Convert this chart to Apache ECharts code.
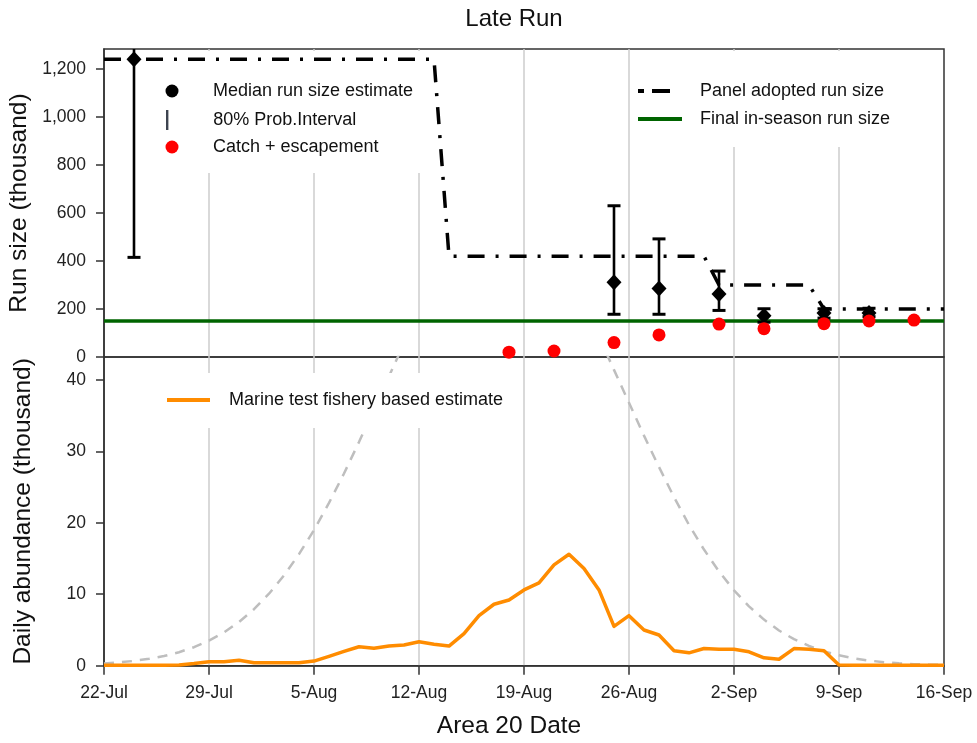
<!DOCTYPE html>
<html>
<head>
<meta charset="utf-8">
<script src="https://cdn.jsdelivr.net/npm/echarts@6/dist/echarts.min.js"></script>
<style>
  html, body { margin: 0; padding: 0; background: #fff; }
  #chart { width: 977px; height: 743px; }
</style>
</head>
<body>
<div id="chart"></div>
<script>
// x axis counts days after 22-Jul
const xTickLabels = ['22-Jul', '29-Jul', '5-Aug', '12-Aug', '19-Aug', '26-Aug', '2-Sep', '9-Sep', '16-Sep'];
const yTopTicks = [0, 200, 400, 600, 800, 1000, 1200];
const yBottomTicks = [0, 10, 20, 30, 40];

// top panel, run size (thousand)
const estDates = ['07-24', '08-25', '08-28', '09-01', '09-04', '09-08', '09-11'];
const estMedian = [1240, 311, 285, 262, 172, 183, 183];
const estLow = [415, 178, 178, 194, 145, 162, 168];
const estHigh = [1330, 630, 492, 358, 201, 201, 203];

const catchDates = ['08-18', '08-21', '08-25', '08-28', '09-01', '09-04', '09-08', '09-11', '09-14'];
const catchEsc = [20, 25, 60, 92, 137, 118, 139, 150, 154];

const adoptDates = ['07-22', '08-13', '08-14', '08-31', '09-01', '09-07', '09-08', '09-16'];
const adoptRun = [1240, 1240, 420, 420, 300, 300, 200, 200];

const finalRun = 150;

// bottom panel, daily abundance (thousand), one value a day from 22-Jul
const marineDaily = [0.05, 0.05, 0.05, 0.05, 0.05, 0.1, 0.3, 0.55, 0.55, 0.75,
  0.4, 0.4, 0.4, 0.4, 0.65, 1.3, 2.0, 2.65, 2.45, 2.75,
  2.9, 3.35, 3.0, 2.75, 4.5, 7.0, 8.6, 9.2, 10.6, 11.6,
  14.1, 15.6, 13.6, 10.6, 5.5, 7.0, 5.0, 4.3, 2.1, 1.8,
  2.4, 2.3, 2.3, 1.95, 1.1, 0.9, 2.4, 2.3, 2.1, 0.1,
  0.05, 0.05, 0.05, 0.05, 0.05, 0.05, 0.05];
const timingCurve = [0.31, 0.46, 0.67, 0.96, 1.35, 1.89, 2.59, 3.5, 4.66, 6.12,
  7.91, 10.07, 12.63, 15.61, 18.99, 22.78, 26.9, 31.3, 35.9, 40.5,
  45.1, 49.4, 53.3, 56.7, 59.4, 61.3, 62.3, 62.4, 61.6, 59.9,
  57.3, 54.0, 50.2, 46.0, 41.4, 36.8, 32.2, 27.8, 23.6, 19.7,
  16.25, 13.19, 10.55, 8.31, 6.45, 4.93, 3.71, 2.76, 2.01, 1.45,
  1.03, 0.72, 0.49, 0.34, 0.22, 0.15, 0.1];

const FONT = 'Liberation Sans, Arial, sans-serif';

function dayOf(s) {
  const [m, d] = s.split('-').map(Number);
  return (Date.UTC(2021, m - 1, d) - Date.UTC(2021, 6, 22)) / 864e5;
}

const axisLineStyle = { color: '#333', width: 1.5 };
const gridLineStyle = { color: '#cccccc', width: 1.5 };
const tickText = { fontSize: 17.5, color: '#222', fontFamily: FONT };
const nameText = { fontSize: 24.5, color: '#111', fontFamily: FONT };
const legendText = { fontSize: 18, color: '#111', fontFamily: FONT };
// hides the dot that line series put in their legend icon
const noDot = { color: 'rgba(0,0,0,0)', opacity: 0, borderWidth: 0 };

const chart = echarts.init(document.getElementById('chart'));
chart.setOption({
  animation: false,
  graphic: [{
    type: 'text', x: 514, y: 19, z: 10,
    style: { text: 'Late Run', fontSize: 24, fontFamily: FONT, fill: '#111',
      align: 'center', verticalAlign: 'middle', textAlign: 'center', textVerticalAlign: 'middle' }
  }],
  grid: [
    { left: 104, right: 33, top: 49, height: 308, show: true, borderColor: '#333', borderWidth: 1.5, outerBoundsMode: 'none' },
    { left: 104, right: 33, top: 357, height: 308.7, show: true, borderColor: '#333', borderWidth: 1.5, outerBoundsMode: 'none' }
  ],
  xAxis: [
    {
      gridIndex: 0, type: 'value', min: 0, max: 56, interval: 7,
      axisLine: { show: false }, axisTick: { show: false }, axisLabel: { show: false },
      splitLine: { show: true, showMinLine: false, showMaxLine: false, lineStyle: gridLineStyle }
    },
    {
      gridIndex: 1, type: 'value', min: 0, max: 56, interval: 7,
      axisLine: { show: true, lineStyle: axisLineStyle },
      axisTick: { show: true, length: 9, lineStyle: axisLineStyle },
      axisLabel: Object.assign({ margin: 18, formatter: v => xTickLabels[Math.round(v / 7)] }, tickText),
      splitLine: { show: true, showMinLine: false, showMaxLine: false, lineStyle: gridLineStyle },
      name: 'Area 20 Date', nameLocation: 'middle', nameGap: 48,
      nameTextStyle: Object.assign({ padding: [0, 30, 0, 0] }, nameText)
    }
  ],
  yAxis: [
    {
      gridIndex: 0, type: 'value', min: 0, max: 1283,
      axisLine: { show: true, lineStyle: axisLineStyle },
      axisTick: { show: true, length: 8, lineStyle: axisLineStyle, customValues: yTopTicks },
      axisLabel: Object.assign({ margin: 18, customValues: yTopTicks,
        formatter: v => String(v).replace(/\B(?=(\d{3})+(?!\d))/g, ',') }, tickText),
      splitLine: { show: false },
      name: 'Run size (thousand)', nameLocation: 'middle', nameRotate: 90, nameGap: 68,
      nameTextStyle: nameText
    },
    {
      gridIndex: 1, type: 'value', min: 0, max: 43.2,
      axisLine: { show: true, lineStyle: axisLineStyle },
      axisTick: { show: true, length: 8, lineStyle: axisLineStyle, customValues: yBottomTicks },
      axisLabel: Object.assign({ margin: 18, customValues: yBottomTicks }, tickText),
      splitLine: { show: false },
      name: 'Daily abundance (thousand)', nameLocation: 'middle', nameRotate: 90, nameGap: 68,
      nameTextStyle: nameText
    }
  ],
  legend: [
    {
      data: [{ name: 'Median run size estimate', icon: 'circle' }, { name: 'Catch + escapement' }],
      left: 159, top: 51, orient: 'vertical', itemWidth: 72, itemHeight: 13, itemGap: 38,
      padding: [31, 12, 17, 6.5], backgroundColor: '#fff', textStyle: legendText, selectedMode: false
    },
    {
      data: [{ name: '80% Prob.Interval', icon: 'path://M0,0H2.4V20H0Z', itemStyle: { color: '#3d4450' } }],
      left: 166, top: 110, itemWidth: 82, itemHeight: 20, padding: 0, z: 5,
      textStyle: legendText, selectedMode: false
    },
    {
      data: [{ name: 'Panel adopted run size', lineStyle: { type: [6, 8, 18, 100], width: 4 }, itemStyle: noDot },
        { name: 'Final in-season run size', lineStyle: { type: [44, 100], width: 4 }, itemStyle: noDot }],
      left: 631, top: 51, orient: 'vertical', itemWidth: 57, itemHeight: 14, itemGap: 10,
      padding: [31, 50, 19, 5], backgroundColor: '#fff', textStyle: legendText, selectedMode: false
    },
    {
      data: [{ name: 'Marine test fishery based estimate', lineStyle: { type: [43, 100], width: 4 }, itemStyle: noDot }],
      left: 160, top: 373, itemWidth: 57, itemHeight: 14,
      padding: [18, 10, 19, 5], backgroundColor: '#fff', textStyle: legendText, selectedMode: false
    }
  ],
  series: [
    {
      name: 'Final in-season run size', type: 'line', xAxisIndex: 0, yAxisIndex: 0, z: 6,
      symbol: 'none', data: [[0, finalRun], [56, finalRun]],
      lineStyle: { color: '#006400', width: 3.5 }, itemStyle: { color: '#006400' }
    },
    {
      name: 'Panel adopted run size', type: 'line', xAxisIndex: 0, yAxisIndex: 0, z: 7,
      symbol: 'none', data: adoptDates.map((d, i) => [dayOf(d), adoptRun[i]]),
      lineStyle: { color: '#000', width: 3.5, type: [17, 11, 3, 11], join: 'round' },
      itemStyle: { color: '#000' }
    },
    {
      name: '80% Prob.Interval', type: 'custom', xAxisIndex: 0, yAxisIndex: 0, z: 8, clip: true,
      itemStyle: { color: '#000' },
      data: estDates.map((d, i) => [dayOf(d), estLow[i], estHigh[i]]),
      renderItem: (params, api) => {
        const lo = api.coord([api.value(0), api.value(1)]);
        const hi = api.coord([api.value(0), api.value(2)]);
        const w = 6.5;
        return {
          type: 'group',
          children: [
            { type: 'line', shape: { x1: lo[0], y1: lo[1], x2: hi[0], y2: hi[1] }, style: { stroke: '#000', lineWidth: 2.6 } },
            { type: 'line', shape: { x1: lo[0] - w, y1: lo[1], x2: lo[0] + w, y2: lo[1] }, style: { stroke: '#000', lineWidth: 3 } },
            { type: 'line', shape: { x1: hi[0] - w, y1: hi[1], x2: hi[0] + w, y2: hi[1] }, style: { stroke: '#000', lineWidth: 3 } }
          ]
        };
      }
    },
    {
      name: 'Median run size estimate', type: 'scatter', xAxisIndex: 0, yAxisIndex: 0, z: 9,
      symbol: 'diamond', symbolSize: [15, 16],
      data: estDates.map((d, i) => [dayOf(d), estMedian[i]]),
      itemStyle: { color: '#000', opacity: 1 }
    },
    {
      name: 'Catch + escapement', type: 'scatter', xAxisIndex: 0, yAxisIndex: 0, z: 10,
      symbol: 'circle', symbolSize: 13,
      data: catchDates.map((d, i) => [dayOf(d), catchEsc[i]]),
      itemStyle: { color: '#ff0000', opacity: 1 }
    },
    {
      name: 'Run timing', type: 'line', xAxisIndex: 1, yAxisIndex: 1, z: 2, silent: true,
      symbol: 'none', data: timingCurve.map((v, i) => [i, v]),
      lineStyle: { color: '#bebebe', width: 2.5, type: [10, 8] }
    },
    {
      name: 'Marine test fishery based estimate', type: 'line', xAxisIndex: 1, yAxisIndex: 1, z: 10,
      symbol: 'none', data: marineDaily.map((v, i) => [i, v]),
      lineStyle: { color: '#ff8c00', width: 3.5, join: 'round' }, itemStyle: { color: '#ff8c00' }
    }
  ]
});
</script>
</body>
</html>
